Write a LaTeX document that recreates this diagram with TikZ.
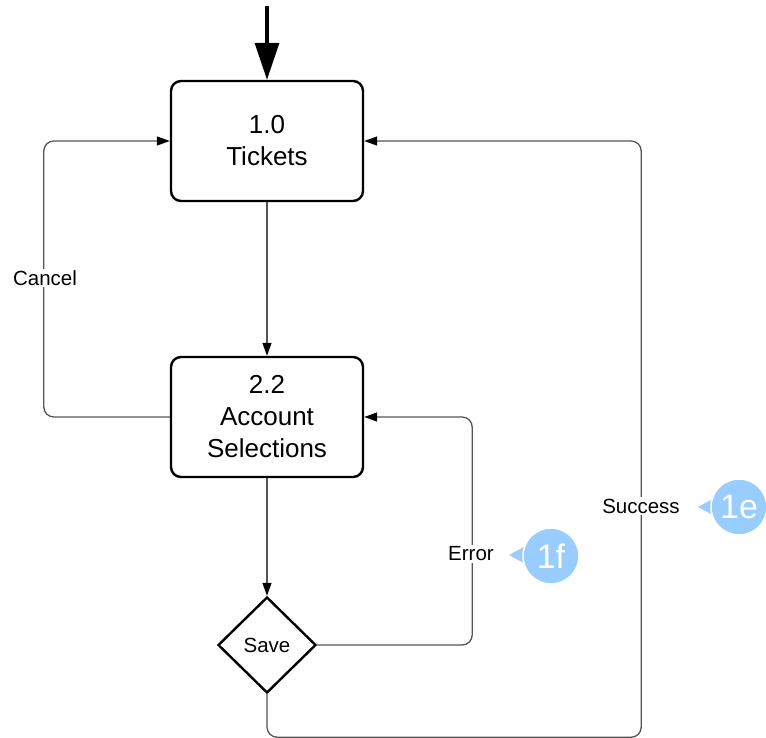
\documentclass[tikz,border=0pt]{standalone}
\usepackage{fontspec}
\setmainfont{Liberation Sans}
\usetikzlibrary{shapes.geometric,arrows.meta}
\definecolor{conngray}{HTML}{555555}
\definecolor{badgeblue}{HTML}{99CCFF}
\tikzset{
  procbox/.style={draw=black, line width=2.4pt, rounded corners=10pt, minimum width=192pt, minimum height=120pt, inner sep=0pt, align=center, font=\fontsize{26}{32}\selectfont},
  decbox/.style={diamond, draw=black, line width=2.4pt, minimum width=98pt, minimum height=96pt, inner sep=0pt, font=\fontsize{20.5}{24}\selectfont},
  conn/.style={draw=conngray, line width=1.3pt, rounded corners=10pt, -{Triangle[length=13pt,width=9pt,color=black]}},
  lbl/.style={fill=white, inner sep=1.5pt, font=\fontsize{20.5}{24}\selectfont},
  badge/.style={circle, fill=badgeblue, draw=white, line width=1.5pt, minimum size=56pt, inner sep=0pt, text=white, font=\fontsize{34}{36}\selectfont},
}
\begin{document}
\begin{tikzpicture}[x=1pt,y=-1pt]
\useasboundingbox (0,0) rectangle (766,737);
% nodes
\node[procbox] (t) at (267,141) {1.0\\Tickets};
\node[procbox] (a) at (267,417) {2.2\\Account\\Selections};
\node[decbox] (s) at (267,645) {Save};
\coordinate (in) at (267,6);
% connectors
\draw[line width=3.5pt, -{Triangle[length=37pt,width=24pt]}] (in) -- (t.north);
\draw[conn] (t.south) -- (a.north);
\draw[conn] (a.south) -- (s.north);
\draw[conn] (a.west) -| ([xshift=-126pt]t.west) -- (t.west);
\draw[conn] (s.east) -| ([xshift=108pt]a.east) -- (a.east);
\draw[conn] (s.south) -- ++(0,43) -| ([xshift=277pt]t.east) -- (t.east);
% labels
\node[lbl] (lc) at (45,278) {Cancel};
\node[lbl] (le) at (471,554) {Error};
\node[lbl] (ls) at (641,506) {Success};
% badges
\fill[badgeblue] (698,507) -- (722,494) -- (722,520) -- cycle;
\node[badge] (b1e) at (739,507) {1e};
\fill[badgeblue] (509,555) -- (533,542) -- (533,568) -- cycle;
\node[badge] (b1f) at (551,556) {1f};
\end{tikzpicture}
\end{document}
